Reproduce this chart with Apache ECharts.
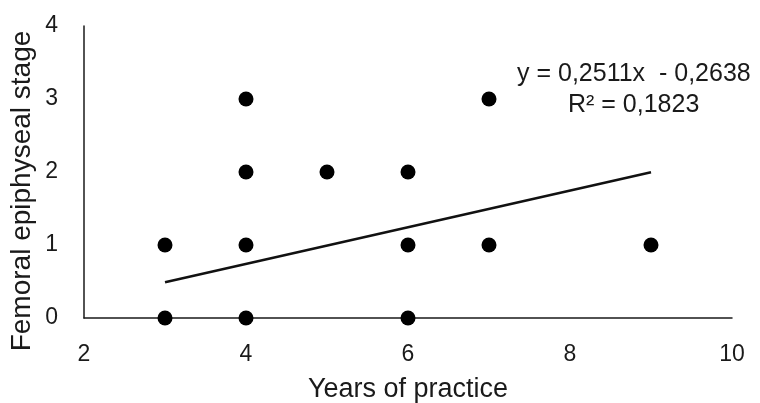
<!DOCTYPE html>
<html><head><meta charset="utf-8">
<script src="https://cdn.jsdelivr.net/npm/echarts@6/dist/echarts.min.js"></script>
<style>html,body{margin:0;padding:0;background:#fff}#c{width:760px;height:403px}</style>
</head><body><div id="c"></div>
<script>
var xValues = [3, 3, 4, 4, 4, 4, 5, 6, 6, 6, 7, 7, 9];
var yValues = [0, 1, 0, 1, 2, 3, 2, 0, 1, 2, 1, 3, 1];
var trendX = [3, 9];
var trendY = [0.4895, 1.9961];
var xTicks = [2, 4, 6, 8, 10];
var yTicks = [0, 1, 2, 3, 4];
var xTitle = 'Years of practice';
var yTitle = 'Femoral epiphyseal stage';
var equationLines = ['y = 0,2511x  - 0,2638', 'R² = 0,1823'];

var chart = echarts.init(document.getElementById('c'));
var font = 'Liberation Sans, Arial, sans-serif';
chart.setOption({
  animation: false,
  grid: {left: 84, right: 28, top: 26, bottom: 85, containLabel: false, outerBoundsMode: 'none'},
  xAxis: {
    type: 'value', min: xTicks[0], max: xTicks[xTicks.length-1], interval: 2,
    name: xTitle, nameLocation: 'middle', nameGap: 58,
    nameTextStyle: {fontFamily: font, fontSize: 27, color: '#1a1a1a'},
    axisLine: {show: true, lineStyle: {color: '#1a1a1a', width: 1.5}},
    axisTick: {show: false}, splitLine: {show: false},
    axisLabel: {fontFamily: font, fontSize: 23, color: '#1a1a1a', margin: 25}
  },
  yAxis: {
    type: 'value', min: yTicks[0], max: yTicks[yTicks.length-1], interval: 1,
    axisLine: {show: true, lineStyle: {color: '#1a1a1a', width: 1.5}},
    axisTick: {show: false}, splitLine: {show: false},
    axisLabel: {fontFamily: font, fontSize: 23, color: '#1a1a1a', margin: 26}
  },
  series: [
    {
      type: 'line', data: trendX.map(function(x, i){ return [x, trendY[i]]; }),
      symbol: 'none', lineStyle: {color: '#111', width: 2.5}, z: 2
    },
    {
      type: 'scatter', data: xValues.map(function(x, i){ return [x, yValues[i]]; }),
      symbolSize: 15, itemStyle: {color: '#000', opacity: 1}, z: 3
    }
  ],
  graphic: [
    {type: 'text', x: 22, y: 191, rotation: Math.PI / 2,
     style: {text: yTitle, font: '28px ' + font, fill: '#1a1a1a', textAlign: 'center', textVerticalAlign: 'middle'}},
    {type: 'text', x: 517, y: 62, style: {text: equationLines[0], font: '25px ' + font, fill: '#1a1a1a'}},
    {type: 'text', x: 568, y: 93, style: {text: equationLines[1], font: '25px ' + font, fill: '#1a1a1a'}}
  ]
});
</script></body></html>
